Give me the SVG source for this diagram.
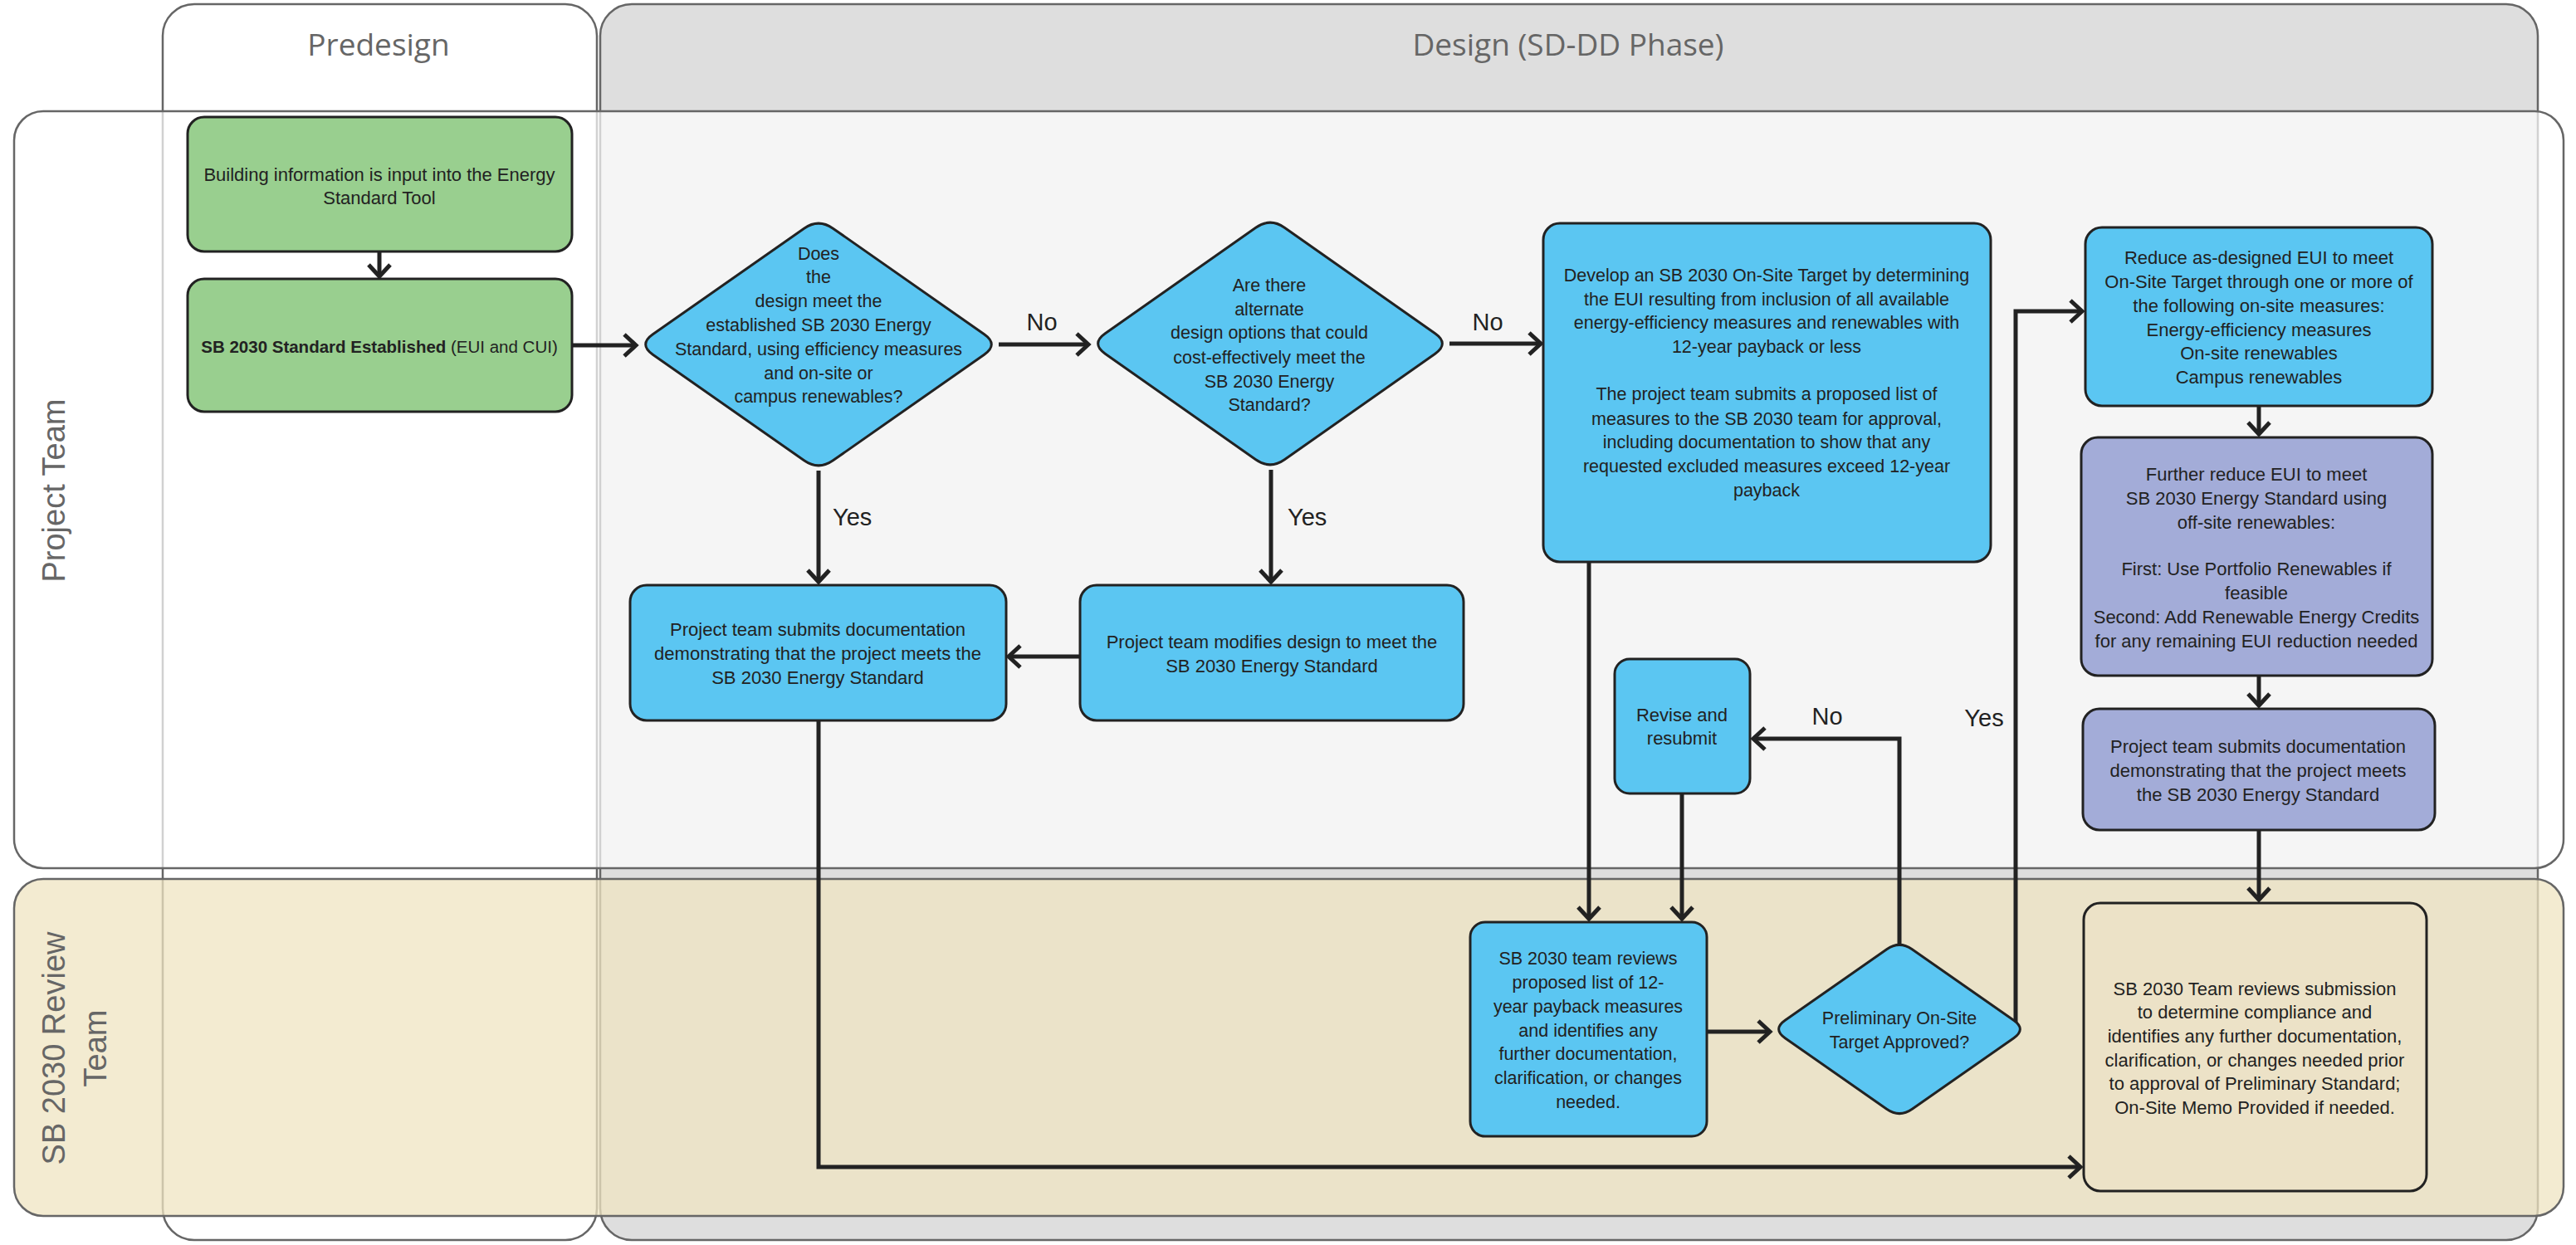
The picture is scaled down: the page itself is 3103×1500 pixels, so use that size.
<svg xmlns="http://www.w3.org/2000/svg" width="3103" height="1500" viewBox="0 0 3103 1500">
<style>
.col{stroke:#666;stroke-width:2.5}
.lane{stroke:#666;stroke-width:2.5}
.hdr{font-family:"Open Sans","Liberation Sans",sans-serif;font-size:37px;fill:#666;text-anchor:middle}
.lbl{font-family:"Liberation Sans",Arial,sans-serif;font-size:38px;fill:#666;text-anchor:middle}
.blue{fill:#5BC6F2;stroke:#222;stroke-width:3}
.green{fill:#99CF8F;stroke:#222;stroke-width:3}
.purple{fill:#A3ACD8;stroke:#222;stroke-width:3}
.tan{fill:#ECE2C7;stroke:#222;stroke-width:3}
.t{font-family:"Liberation Sans",Arial,sans-serif;font-size:22px;fill:#222;text-anchor:middle}
.ts{font-size:21.5px}
.yn{font-family:"Liberation Sans",Arial,sans-serif;font-size:29px;fill:#222}
.c{fill:none;stroke:#222;stroke-width:5}
</style>
<defs>
<marker id="arr" viewBox="-18 -16 22 32" markerWidth="22" markerHeight="32" refX="0" refY="0" orient="auto" markerUnits="userSpaceOnUse">
<path d="M-14,-13 L0,0 L-14,13" fill="none" stroke="#222" stroke-width="5"/>
</marker>
</defs>
<rect width="3103" height="1500" fill="#FFFFFF"/>
<g id="columns">
<rect id="col-predesign" class="col" x="196" y="5" width="523" height="1489" rx="38" fill="#FFFFFF"/>
<rect id="col-design" class="col" x="723" y="5" width="2334" height="1489" rx="38" fill="#DEDEDE"/>
<text class="hdr" x="456" y="67">Predesign</text>
<text class="hdr" x="1889" y="67">Design (SD-DD Phase)</text>
</g>
<g id="lanes">
<rect id="lane-project" class="lane" x="17" y="134" width="3071" height="912" rx="35" fill="#FFFFFF" fill-opacity="0.7"/>
<rect id="lane-review" class="lane" x="17" y="1059" width="3071" height="406" rx="35" fill="#EFE4C1" fill-opacity="0.75"/>
<text class="lbl" transform="translate(78,591) rotate(-90)">Project Team</text>
<text class="lbl" transform="translate(78,1263) rotate(-90)">SB 2030 Review</text>
<text class="lbl" transform="translate(128,1263) rotate(-90)">Team</text>
</g>
<g id="connectors">
<path class="c" d="M457,303 L457,333" marker-end="url(#arr)"/>
<path class="c" d="M689,416 L766,416" marker-end="url(#arr)"/>
<path class="c" d="M1203,415 L1311,415" marker-end="url(#arr)"/>
<path class="c" d="M1746,414 L1856,414" marker-end="url(#arr)"/>
<path class="c" d="M986,567 L986,701" marker-end="url(#arr)"/>
<path class="c" d="M1531,566 L1531,701" marker-end="url(#arr)"/>
<path class="c" d="M1301,791 L1215,791" marker-end="url(#arr)"/>
<path class="c" d="M986,868 L986,1406 L2506,1406" marker-end="url(#arr)"/>
<path class="c" d="M1914,677 L1914,1107" marker-end="url(#arr)"/>
<path class="c" d="M2026,956 L2026,1107" marker-end="url(#arr)"/>
<path class="c" d="M2056,1243 L2132,1243" marker-end="url(#arr)"/>
<path class="c" d="M2288,1140 L2288,890 L2112,890" marker-end="url(#arr)"/>
<path class="c" d="M2428,1235 L2428,375 L2508,375" marker-end="url(#arr)"/>
<path class="c" d="M2721,489 L2721,523" marker-end="url(#arr)"/>
<path class="c" d="M2721,813 L2721,850" marker-end="url(#arr)"/>
<path class="c" d="M2721,1000 L2721,1084" marker-end="url(#arr)"/>
<text class="yn" x="1255" y="398" text-anchor="middle">No</text>
<text class="yn" x="1792" y="398" text-anchor="middle">No</text>
<text class="yn" x="1003" y="633">Yes</text>
<text class="yn" x="1551" y="633">Yes</text>
<text class="yn" x="2201" y="873" text-anchor="middle">No</text>
<text class="yn" x="2390" y="875" text-anchor="middle">Yes</text>
</g>
<g id="n-input">
<rect class="green" x="226" y="141" width="463" height="162" rx="20"/>
<text class="t"><tspan x="457" y="218">Building information is input into the Energy</tspan><tspan x="457" y="246">Standard Tool</tspan></text>
</g>
<g id="n-standard">
<rect class="green" x="226" y="336" width="463" height="160" rx="20"/>
<text class="t" x="457" y="425" style="font-size:20.5px"><tspan font-weight="bold">SB 2030 Standard Established</tspan> (EUI and CUI)</text>
</g>
<g id="n-meet">
<path class="blue" d="M786.4,402.8 L968.6,275.2 Q986,263 1003.4,275.2 L1185.6,402.8 Q1203,415 1185.6,427.2 L1003.4,554.8 Q986,567 968.6,554.8 L786.4,427.2 Q769,415 786.4,402.8 Z"/>
<text class="t ts"><tspan x="986" y="313">Does</tspan><tspan x="986" y="341">the</tspan><tspan x="986" y="370">design meet the</tspan><tspan x="986" y="399">established SB 2030 Energy</tspan><tspan x="986" y="428">Standard, using efficiency measures</tspan><tspan x="986" y="457">and on-site or</tspan><tspan x="986" y="485">campus renewables?</tspan></text>
</g>
<g id="n-alternate">
<path class="blue" d="M1331.3,401.8 L1512.7,274.2 Q1530,262 1547.3,274.2 L1728.7,401.8 Q1746,414 1728.7,426.2 L1547.3,553.8 Q1530,566 1512.7,553.8 L1331.3,426.2 Q1314,414 1331.3,401.8 Z"/>
<text class="t ts"><tspan x="1529" y="351">Are there</tspan><tspan x="1529" y="380">alternate</tspan><tspan x="1529" y="408">design options that could</tspan><tspan x="1529" y="438">cost-effectively meet the</tspan><tspan x="1529" y="467">SB 2030 Energy</tspan><tspan x="1529" y="495">Standard?</tspan></text>
</g>
<g id="n-develop">
<rect class="blue" x="1859" y="269" width="539" height="408" rx="20"/>
<text class="t ts"><tspan x="2128" y="339">Develop an SB 2030 On-Site Target by determining</tspan><tspan x="2128" y="368">the EUI resulting from inclusion of all available</tspan><tspan x="2128" y="396">energy-efficiency measures and renewables with</tspan><tspan x="2128" y="425">12-year payback or less</tspan><tspan x="2128" y="482">The project team submits a proposed list of</tspan><tspan x="2128" y="512">measures to the SB 2030 team for approval,</tspan><tspan x="2128" y="540">including documentation  to show that any</tspan><tspan x="2128" y="569">requested excluded measures exceed 12-year</tspan><tspan x="2128" y="598">payback</tspan></text>
</g>
<g id="n-submit-left">
<rect class="blue" x="759" y="705" width="453" height="163" rx="20"/>
<text class="t"><tspan x="985" y="766">Project team submits documentation</tspan><tspan x="985" y="795">demonstrating that the project meets the</tspan><tspan x="985" y="824">SB 2030 Energy Standard</tspan></text>
</g>
<g id="n-modify">
<rect class="blue" x="1301" y="705" width="462" height="163" rx="20"/>
<text class="t"><tspan x="1532" y="781">Project team modifies design to meet the</tspan><tspan x="1532" y="810">SB 2030 Energy Standard</tspan></text>
</g>
<g id="n-revise">
<rect class="blue" x="1945" y="794" width="163" height="162" rx="18"/>
<text class="t"><tspan x="2026" y="869">Revise and</tspan><tspan x="2026" y="897">resubmit</tspan></text>
</g>
<g id="n-review">
<rect class="blue" x="1771" y="1111" width="285" height="258" rx="18"/>
<text class="t ts"><tspan x="1913" y="1162">SB 2030 team reviews</tspan><tspan x="1913" y="1191">proposed list of 12-</tspan><tspan x="1913" y="1220">year payback measures</tspan><tspan x="1913" y="1249">and identifies any</tspan><tspan x="1913" y="1277">further documentation,</tspan><tspan x="1913" y="1306">clarification, or changes</tspan><tspan x="1913" y="1335">needed.</tspan></text>
</g>
<g id="n-approved">
<path class="blue" d="M2150.3,1229.3 L2272.7,1143.7 Q2288,1133 2303.3,1143.7 L2425.7,1229.3 Q2441,1240 2425.7,1250.7 L2303.3,1336.3 Q2288,1347 2272.7,1336.3 L2150.3,1250.7 Q2135,1240 2150.3,1229.3 Z"/>
<text class="t ts"><tspan x="2288" y="1234">Preliminary On-Site</tspan><tspan x="2288" y="1263">Target Approved?</tspan></text>
</g>
<g id="n-reduce">
<rect class="blue" x="2512" y="274" width="418" height="215" rx="20"/>
<text class="t"><tspan x="2721" y="318">Reduce as-designed EUI to meet</tspan><tspan x="2721" y="347">On-Site Target through one or more of</tspan><tspan x="2721" y="376">the following on-site measures:</tspan><tspan x="2721" y="405">Energy-efficiency measures</tspan><tspan x="2721" y="433">On-site renewables</tspan><tspan x="2721" y="462">Campus renewables</tspan></text>
</g>
<g id="n-further">
<rect class="purple" x="2507" y="527" width="423" height="287" rx="20"/>
<text class="t"><tspan x="2718" y="579">Further reduce EUI to meet</tspan><tspan x="2718" y="608">SB 2030 Energy Standard using</tspan><tspan x="2718" y="637">off-site renewables:</tspan><tspan x="2718" y="693">First: Use Portfolio Renewables if</tspan><tspan x="2718" y="722">feasible</tspan><tspan x="2718" y="751">Second: Add Renewable Energy Credits</tspan><tspan x="2718" y="780">for any remaining EUI reduction needed</tspan></text>
</g>
<g id="n-submit-right">
<rect class="purple" x="2509" y="854" width="424" height="146" rx="20"/>
<text class="t"><tspan x="2720" y="907">Project team submits documentation</tspan><tspan x="2720" y="936">demonstrating that the project meets</tspan><tspan x="2720" y="965">the SB 2030 Energy Standard</tspan></text>
</g>
<g id="n-final-review">
<rect class="tan" x="2510" y="1088" width="413" height="347" rx="20"/>
<text class="t"><tspan x="2716" y="1199">SB 2030 Team reviews submission</tspan><tspan x="2716" y="1227">to determine compliance and</tspan><tspan x="2716" y="1256">identifies any further documentation,</tspan><tspan x="2716" y="1285">clarification, or changes needed prior</tspan><tspan x="2716" y="1313">to approval of Preliminary Standard;</tspan><tspan x="2716" y="1342">On-Site Memo Provided if needed.</tspan></text>
</g>
</svg>
